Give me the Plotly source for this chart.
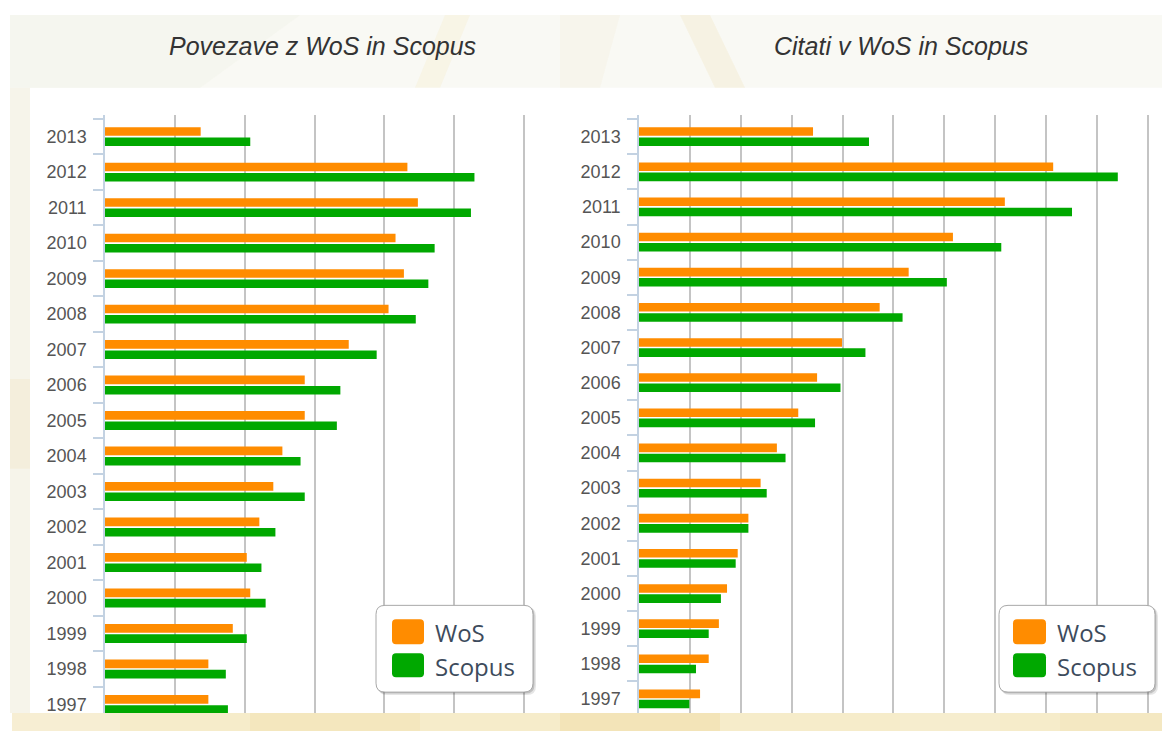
import plotly.graph_objects as go

# ---------------- data ----------------
years = ["2013", "2012", "2011", "2010", "2009", "2008", "2007", "2006", "2005",
         "2004", "2003", "2002", "2001", "2000", "1999", "1998", "1997"]
series_names = ["WoS", "Scopus"]
panel_titles = ["Povezave z WoS in Scopus", "Citati v WoS in Scopus"]

links_wos = [13.7, 43.3, 44.8, 41.6, 42.8, 40.6, 34.9, 28.6, 28.6,
             25.4, 24.1, 22.1, 20.3, 20.8, 18.3, 14.8, 14.8]
links_scopus = [20.8, 52.9, 52.4, 47.2, 46.3, 44.5, 38.9, 33.7, 33.2,
                28.0, 28.6, 24.4, 22.4, 23.0, 20.3, 17.3, 17.6]
cit_wos = [34.2, 81.4, 71.9, 61.7, 53.0, 47.3, 39.9, 35.0, 31.3,
           27.1, 23.9, 21.5, 19.4, 17.3, 15.7, 13.7, 12.0]
cit_scopus = [45.2, 94.1, 85.1, 71.2, 60.5, 51.8, 44.5, 39.6, 34.6,
              28.8, 25.1, 21.5, 19.0, 16.1, 13.7, 11.2, 9.9]

# ---------------- styling ----------------
OFF = 8                      # page body margin
W, H = 1170 - OFF, 733 - OFF
ORANGE = "#FF8C00"
GREEN = "#00A800"
colors = [ORANGE, GREEN]


def px(x):
    return (x - OFF) / W


def py(y):
    return 1 - (y - OFF) / H


def rrect(x0, y0, x1, y1, r):
    """rounded rectangle path in paper coords, given page pixel coords"""
    pts = [
        f"M {px(x0 + r)},{py(y0)}",
        f"L {px(x1 - r)},{py(y0)}",
        f"Q {px(x1)},{py(y0)} {px(x1)},{py(y0 + r)}",
        f"L {px(x1)},{py(y1 - r)}",
        f"Q {px(x1)},{py(y1)} {px(x1 - r)},{py(y1)}",
        f"L {px(x0 + r)},{py(y1)}",
        f"Q {px(x0)},{py(y1)} {px(x0)},{py(y1 - r)}",
        f"L {px(x0)},{py(y0 + r)}",
        f"Q {px(x0)},{py(y0)} {px(x0 + r)},{py(y0)}",
        "Z",
    ]
    return " ".join(pts)


def poly(points):
    return "M " + " L ".join(f"{px(x)},{py(y)}" for x, y in points) + " Z"


fig = go.Figure()

panels = [
    (links_wos, links_scopus, "x", "y", "legend"),
    (cit_wos, cit_scopus, "x2", "y2", "legend2"),
]
for wos, scop, xa, ya, lg in panels:
    for name, vals, col in zip(series_names, [wos, scop], colors):
        fig.add_trace(go.Bar(
            x=vals, y=years, orientation="h", name=name,
            marker=dict(color=col, line=dict(width=0)),
            xaxis=xa, yaxis=ya, legend=lg, hoverinfo="x+y+name",
        ))

tickfont = dict(family="Liberation Sans, Arial, sans-serif", size=18, color="#555555")
axis_blue = "#c3d2e2"
grid_col = "#c4c4c4"

common_x = dict(showgrid=True, gridcolor=grid_col, gridwidth=1.5, dtick=10, tick0=0,
                showticklabels=False, ticks="", zeroline=False, showline=False,
                fixedrange=True)
common_y = dict(type="category", categoryorder="array", categoryarray=years,
                showline=True, linecolor=axis_blue, linewidth=1.5,
                ticks="outside", tickson="boundaries", ticklen=10,
                tickcolor=axis_blue, tickwidth=1.5, showgrid=False,
                tickfont=tickfont, ticklabelstandoff=13, fixedrange=True)

fig.update_layout(
    width=W, height=H,
    margin=dict(l=0, r=0, t=0, b=0),
    paper_bgcolor="white", plot_bgcolor="rgba(0,0,0,0)",
    barmode="group", bargap=0.42, bargroupgap=0.16,
    xaxis=dict(domain=[px(105), px(538)], range=[0, 62], anchor="y", **common_x),
    yaxis=dict(domain=[py(715), py(115)], range=[16.24, -0.618], anchor="x", **common_y),
    xaxis2=dict(domain=[px(639), px(1158)], range=[0, 102], anchor="y2", **common_x),
    yaxis2=dict(domain=[py(715), py(115)], range=[16.40, -0.624], anchor="x2", **common_y),
)

legend_font = dict(family="Open Sans, Noto Sans, sans-serif", size=24, color="#3d4b5c")
for key, lx in [("legend", 395), ("legend2", 1017)]:
    fig.update_layout({key: dict(
        x=px(lx), y=py(612), xanchor="left", yanchor="top",
        bgcolor="rgba(0,0,0,0)", borderwidth=0, font=legend_font,
        traceorder="normal", itemclick=False, itemdoubleclick=False,
    )})

# titles
title_font = dict(family="Liberation Sans, Arial, sans-serif", size=25,
                  color="#333333", style="italic")
for t, cx in zip(panel_titles, [322, 901]):
    fig.add_annotation(text=t, x=px(cx), y=py(46), xref="paper", yref="paper",
                       showarrow=False, font=title_font, xanchor="center", yanchor="middle")

shapes = []
# decorative page background
shapes.append(dict(type="rect", xref="paper", yref="paper", layer="below",
                   x0=px(10), x1=px(1170), y0=py(88), y1=py(15),
                   fillcolor="#f9f9f4", line=dict(width=0)))
shapes.append(dict(type="path", xref="paper", yref="paper", layer="below",
                   path=poly([(10, 15), (300, 15), (200, 88), (10, 88)]),
                   fillcolor="#f1f4ea", opacity=0.5, line=dict(width=0)))
shapes.append(dict(type="path", xref="paper", yref="paper", layer="below",
                   path=poly([(445, 15), (470, 15), (440, 88), (415, 88)]),
                   fillcolor="#f4ecc8", opacity=0.3, line=dict(width=0)))
shapes.append(dict(type="path", xref="paper", yref="paper", layer="below",
                   path=poly([(680, 15), (710, 15), (745, 88), (715, 88)]),
                   fillcolor="#f1dfb0", opacity=0.25, line=dict(width=0)))
shapes.append(dict(type="path", xref="paper", yref="paper", layer="below",
                   path=poly([(560, 15), (620, 15), (600, 88), (560, 88)]),
                   fillcolor="#f3efdc", opacity=0.35, line=dict(width=0)))
# left strip
shapes.append(dict(type="rect", xref="paper", yref="paper", layer="below",
                   x0=px(10), x1=px(30), y0=py(715), y1=py(88),
                   fillcolor="#f6f4ea", line=dict(width=0)))
shapes.append(dict(type="rect", xref="paper", yref="paper", layer="below",
                   x0=px(10), x1=px(30), y0=py(470), y1=py(380),
                   fillcolor="#f2e3c2", opacity=0.35, line=dict(width=0)))
# bottom band
shapes.append(dict(type="rect", xref="paper", yref="paper", layer="below",
                   x0=px(12), x1=px(1170), y0=py(733), y1=py(715),
                   fillcolor="#f6ecca", line=dict(width=0)))
for x0, x1, c in [(12, 120, "#f8f0d8"), (250, 420, "#f4e4b6"), (560, 720, "#f2dfac"),
                  (900, 1000, "#f7eed0"), (1060, 1170, "#f4e6bc")]:
    shapes.append(dict(type="rect", xref="paper", yref="paper", layer="below",
                       x0=px(x0), x1=px(x1), y0=py(733), y1=py(715),
                       fillcolor=c, opacity=0.6, line=dict(width=0)))

# legend boxes with shadow and big swatches
for bx0, bx1, sx0, sx1 in [(376, 533, 392, 424), (999, 1155, 1013, 1046)]:
    by0, by1 = 607, 694
    shapes.append(dict(type="path", xref="paper", yref="paper", layer="above",
                       path=rrect(bx0 + 2, by0 + 2, bx1 + 3, by1 + 3, 9),
                       fillcolor="rgba(0,0,0,0.10)", line=dict(width=0)))
    shapes.append(dict(type="path", xref="paper", yref="paper", layer="above",
                       path=rrect(bx0 + 1, by0 + 1, bx1 + 1.5, by1 + 1.5, 9),
                       fillcolor="rgba(0,0,0,0.16)", line=dict(width=0)))
    shapes.append(dict(type="path", xref="paper", yref="paper", layer="above",
                       path=rrect(bx0, by0, bx1, by1, 9),
                       fillcolor="white", line=dict(color="#a8a8a8", width=1)))
    for (sy0, sy1), col in zip([(621, 646), (655, 679)], colors):
        shapes.append(dict(type="path", xref="paper", yref="paper", layer="above",
                           path=rrect(sx0, sy0, sx1, sy1, 4),
                           fillcolor=col, line=dict(width=0)))

fig.update_layout(shapes=shapes)

fig.write_html("out.html", config={"displayModeBar": False})
